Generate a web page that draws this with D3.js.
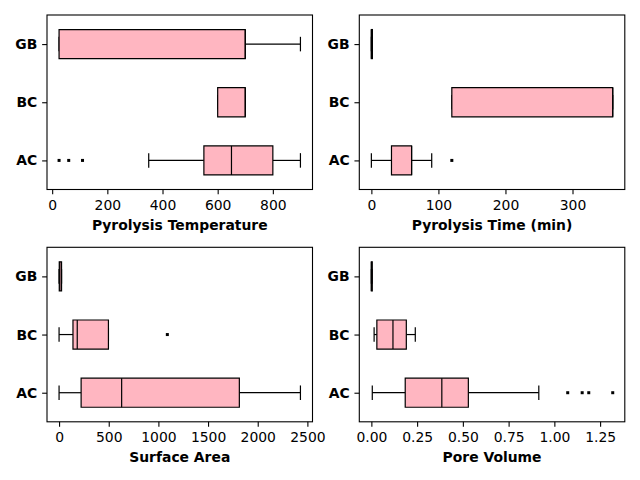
<!DOCTYPE html>
<html>
<head>
<meta charset="utf-8">
<script src="https://cdn.jsdelivr.net/npm/d3@7"></script>
<style>
body { margin: 0; background: #fff; }
svg { display: block; }
text { font-family: "DejaVu Sans", sans-serif; }
</style>
</head>
<body>
<div id="chart"></div>
<script>
// categories on the y axis (bottom to top)
var categories = ["AC", "BC", "GB"];

// [whisker low, q1, median, q3, whisker high] for AC, BC, GB
var tempStats = [[350, 550, 650, 800, 900], [600, 600, 700, 700, 700], [25, 25, 700, 700, 900]];
var tempOutliers = [[25, 60, 110], [], []];
var tempTicks = [0, 200, 400, 600, 800];

var timeStats = [[0, 30, 60, 60, 90], [120, 120, 360, 360, 360], [0, 0, 0, 1.5, 1.5]];
var timeOutliers = [[120], [], []];
var timeTicks = [0, 100, 200, 300];

var areaStats = [[0, 222, 630, 1815, 2430], [0, 140, 183, 497, 497], [0, 2, 8, 25, 25]];
var areaOutliers = [[], [1090], []];
var areaTicks = [0, 500, 1000, 1500, 2000, 2500];

var poreStats = [[0.005, 0.185, 0.385, 0.53, 0.915], [0.015, 0.03, 0.118, 0.191, 0.24], [0, 0, 0, 0.005, 0.005]];
var poreOutliers = [[1.073, 1.152, 1.188, 1.319], [], []];
var poreTicks = [0, 0.25, 0.5, 0.75, 1.0, 1.25];

var panels = [
    {stats: tempStats, outliers: tempOutliers, ticks: tempTicks, fmt: d3.format("d"), label: "Pyrolysis Temperature", left: 47, top: 15},
    {stats: timeStats, outliers: timeOutliers, ticks: timeTicks, fmt: d3.format("d"), label: "Pyrolysis Time (min)", left: 359.3, top: 15},
    {stats: areaStats, outliers: areaOutliers, ticks: areaTicks, fmt: d3.format("d"), label: "Surface Area", left: 47, top: 247.3},
    {stats: poreStats, outliers: poreOutliers, ticks: poreTicks, fmt: d3.format(".2f"), label: "Pore Volume", left: 359.3, top: 247.3}
];

var W = 265.5, H = 174.5;
var fontSize = 13.9;
var tickLen = 4.86;
var lw = 1.2;

var svg = d3.select("#chart").append("svg")
    .attr("width", 640)
    .attr("height", 480);

panels.forEach(function(p) {
    var g = svg.append("g").attr("transform", "translate(" + p.left + "," + p.top + ")");

    // matplotlib style 5% margins
    var all = [];
    p.stats.forEach(function(s) { all = all.concat(s); });
    p.outliers.forEach(function(o) { all = all.concat(o); });
    var lo = d3.min(all), hi = d3.max(all);
    var m = (hi - lo) * 0.05;

    var x = d3.scaleLinear().domain([lo - m, hi + m]).range([0, W]);
    var y = d3.scaleLinear().domain([0.5, 3.5]).range([H, 0]);

    var rows = g.selectAll(".row")
        .data(categories.map(function(c, i) {
            return {cat: c, pos: i + 1, s: p.stats[i], out: p.outliers[i]};
        }))
        .enter().append("g")
        .attr("class", "row");

    // whiskers
    rows.append("line")
        .attr("x1", function(d) { return x(d.s[0]); })
        .attr("x2", function(d) { return x(d.s[1]); })
        .attr("y1", function(d) { return y(d.pos); })
        .attr("y2", function(d) { return y(d.pos); })
        .attr("stroke", "#000").attr("stroke-width", lw);
    rows.append("line")
        .attr("x1", function(d) { return x(d.s[3]); })
        .attr("x2", function(d) { return x(d.s[4]); })
        .attr("y1", function(d) { return y(d.pos); })
        .attr("y2", function(d) { return y(d.pos); })
        .attr("stroke", "#000").attr("stroke-width", lw);

    // caps
    [0, 4].forEach(function(k) {
        rows.append("line")
            .attr("x1", function(d) { return x(d.s[k]); })
            .attr("x2", function(d) { return x(d.s[k]); })
            .attr("y1", function(d) { return y(d.pos - 0.125); })
            .attr("y2", function(d) { return y(d.pos + 0.125); })
            .attr("stroke", "#000").attr("stroke-width", lw);
    });

    // box (path so zero-width boxes still show)
    rows.append("path")
        .attr("d", function(d) {
            var x1 = x(d.s[1]), x2 = x(d.s[3]);
            var y1 = y(d.pos + 0.25), y2 = y(d.pos - 0.25);
            return "M" + x1 + "," + y1 + "H" + x2 + "V" + y2 + "H" + x1 + "Z";
        })
        .attr("fill", "#FFB6C1")
        .attr("stroke", "#000")
        .attr("stroke-width", lw);

    // median
    rows.append("line")
        .attr("x1", function(d) { return x(d.s[2]); })
        .attr("x2", function(d) { return x(d.s[2]); })
        .attr("y1", function(d) { return y(d.pos + 0.25); })
        .attr("y2", function(d) { return y(d.pos - 0.25); })
        .attr("stroke", "#000").attr("stroke-width", lw);

    // outliers
    rows.each(function(d) {
        d3.select(this).selectAll(".flier")
            .data(d.out)
            .enter().append("rect")
            .attr("class", "flier")
            .attr("x", function(v) { return x(v) - 1.5; })
            .attr("y", y(d.pos) - 1.5)
            .attr("width", 3)
            .attr("height", 3)
            .attr("fill", "#000");
    });

    // axes
    var xAxis = g.append("g")
        .attr("transform", "translate(0," + H + ")")
        .call(d3.axisBottom(x).tickValues(p.ticks).tickFormat(p.fmt)
            .tickSize(tickLen).tickPadding(5.6).tickSizeOuter(0));
    xAxis.select(".domain").remove();
    xAxis.selectAll("text").style("font-size", fontSize + "px").attr("fill", "#000");
    xAxis.selectAll("line").attr("stroke", "#000").attr("stroke-width", 1.1);

    var yAxis = g.append("g")
        .call(d3.axisLeft(y).tickValues([1, 2, 3]).tickFormat(function(v) { return categories[v - 1]; })
            .tickSize(tickLen).tickPadding(4.86).tickSizeOuter(0));
    yAxis.select(".domain").remove();
    yAxis.selectAll("text").style("font-size", fontSize + "px").style("font-weight", "bold").attr("fill", "#000");
    yAxis.selectAll("line").attr("stroke", "#000").attr("stroke-width", 1.1);

    // frame
    g.append("rect")
        .attr("width", W).attr("height", H)
        .attr("fill", "none")
        .attr("stroke", "#000")
        .attr("stroke-width", 1.1);

    g.append("text")
        .attr("x", W / 2)
        .attr("y", H + 40.5)
        .attr("text-anchor", "middle")
        .style("font-size", fontSize + "px")
        .style("font-weight", "bold")
        .text(p.label);
});
</script>
</body>
</html>
